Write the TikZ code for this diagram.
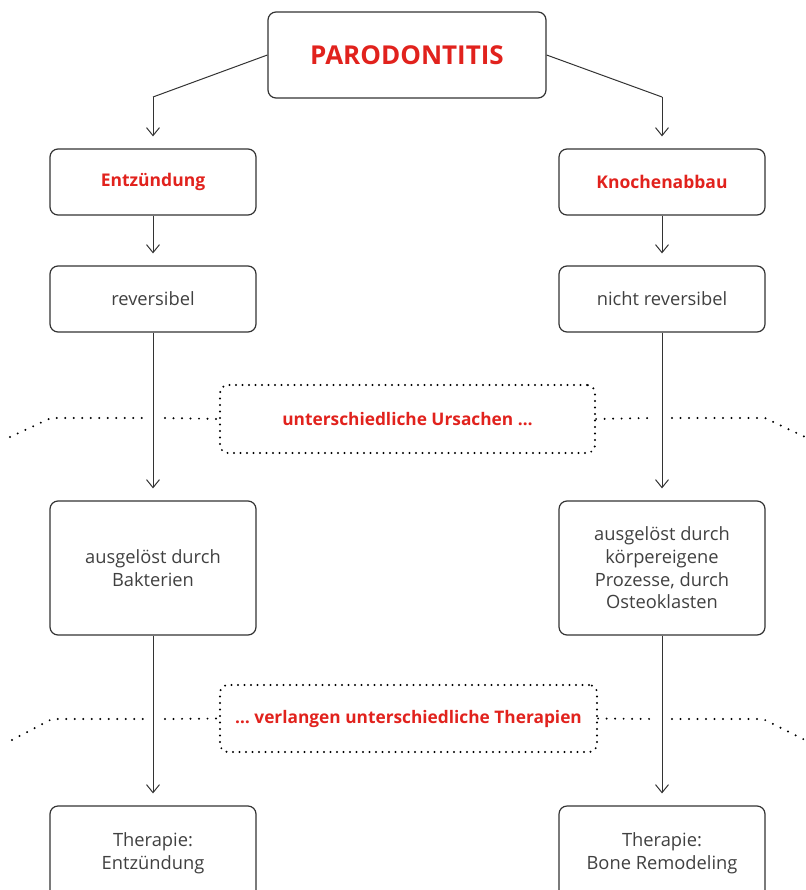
\documentclass[tikz,border=0pt]{standalone}
\usepackage{fontspec}
\setmainfont{Open Sans}
\usetikzlibrary{arrows.meta}
\definecolor{pred}{HTML}{E1221D}
\definecolor{pline}{HTML}{333333}
\definecolor{ptext}{HTML}{404040}
\tikzset{
  box/.style={draw=pline, line width=1.2pt, rounded corners=8pt, align=center, inner sep=0pt, text=ptext, font=\fontsize{18.3}{22.6}\selectfont},
  redbox/.style={box, text=pred, font=\fontsize{17.5}{21}\selectfont\bfseries},
  dotbox/.style={draw=black, line width=2.2pt, line cap=round, dash pattern=on 0pt off 6.5pt, rounded corners=8pt, align=center, inner sep=0pt, text=pred, font=\fontsize{17.3}{21}\selectfont\bfseries},
  dotline/.style={draw=black, line width=2.2pt, line cap=round, dash pattern=on 0pt off 8.5pt},
  conn/.style={draw=pline, line width=1pt, -{Straight Barb[length=8pt,width=13pt,line width=1pt]}, shorten >=12pt},
  plain/.style={draw=pline, line width=1pt},
}
\begin{document}
\begin{tikzpicture}[x=1pt,y=-1pt]
\useasboundingbox (0,0) rectangle (805,890);
\node[box, minimum width=278pt, minimum height=86pt, text=pred, font=\fontsize{26}{30}\selectfont\bfseries] (top) at (407,55) {PARODONTITIS};
\node[redbox, minimum width=206pt, minimum height=66pt] (e1) at (153,182) {Entzündung};
\node[redbox, minimum width=206pt, minimum height=66pt] (k1) at (662,182) {Knochenabbau};
\node[box, minimum width=206pt, minimum height=66pt] (r1) at (153,299) {reversibel};
\node[box, minimum width=206pt, minimum height=66pt] (r2) at (662,299) {nicht reversibel};
\node[box, minimum width=206pt, minimum height=134pt] (b1) at (153,568) {ausgelöst durch\\Bakterien};
\node[box, minimum width=206pt, minimum height=134pt] (b2) at (662,568) {ausgelöst durch\\körpereigene\\Prozesse, durch\\Osteoklasten};
\node[box, minimum width=206pt, minimum height=94pt] (t1) at (153,853) {Therapie:\\Entzündung};
\node[box, minimum width=206pt, minimum height=94pt] (t2) at (662,853) {Therapie:\\Bone Remodeling};
\node[dotbox, minimum width=375pt, minimum height=68pt] (d1) at (407.5,419) {unterschiedliche Ursachen \dots};
\node[dotbox, minimum width=377pt, minimum height=67pt] (d2) at (408.5,718.5) {\dots\ verlangen unterschiedliche Therapien};
% connectors
\coordinate (kl) at (153,97);
\coordinate (kr) at (662,97);
\draw[plain] (top.west) -- (kl);
\draw[conn] (kl) -- (e1.north);
\draw[plain] (top.east) -- (kr);
\draw[conn] (kr) -- (k1.north);
\draw[conn] (e1) -- (r1);
\draw[conn] (k1) -- (r2);
\draw[conn] (r1) -- (b1);
\draw[conn] (r2) -- (b2);
\draw[conn] (b1) -- (t1);
\draw[conn] (b2) -- (t2);
% dotted guides 1
\coordinate (a1) at (10,437);
\coordinate (a2) at (51,418);
\coordinate (a3) at (143,418);
\coordinate (a4) at (165,418);
\coordinate (a5) at (651,418);
\coordinate (a6) at (672,418);
\coordinate (a7) at (765,418);
\coordinate (a8) at (805,437);
\draw[dotline] (a1) -- (a2) -- (a3);
\draw[dotline] (a4) -- (d1.west);
\draw[dotline] (d1.east) -- (a5);
\draw[dotline] (a6) -- (a7) -- (a8);
% dotted guides 2
\coordinate (c1) at (12,740);
\coordinate (c2) at (52,719);
\coordinate (c3) at (143,719);
\coordinate (c4) at (165,719);
\coordinate (c5) at (651,719);
\coordinate (c6) at (672,719);
\coordinate (c7) at (763,719);
\coordinate (c8) at (805,740);
\draw[dotline] (c1) -- (c2) -- (c3);
\draw[dotline] (c4) -- (d2.west);
\draw[dotline] (d2.east) -- (c5);
\draw[dotline] (c6) -- (c7) -- (c8);
\end{tikzpicture}
\end{document}
